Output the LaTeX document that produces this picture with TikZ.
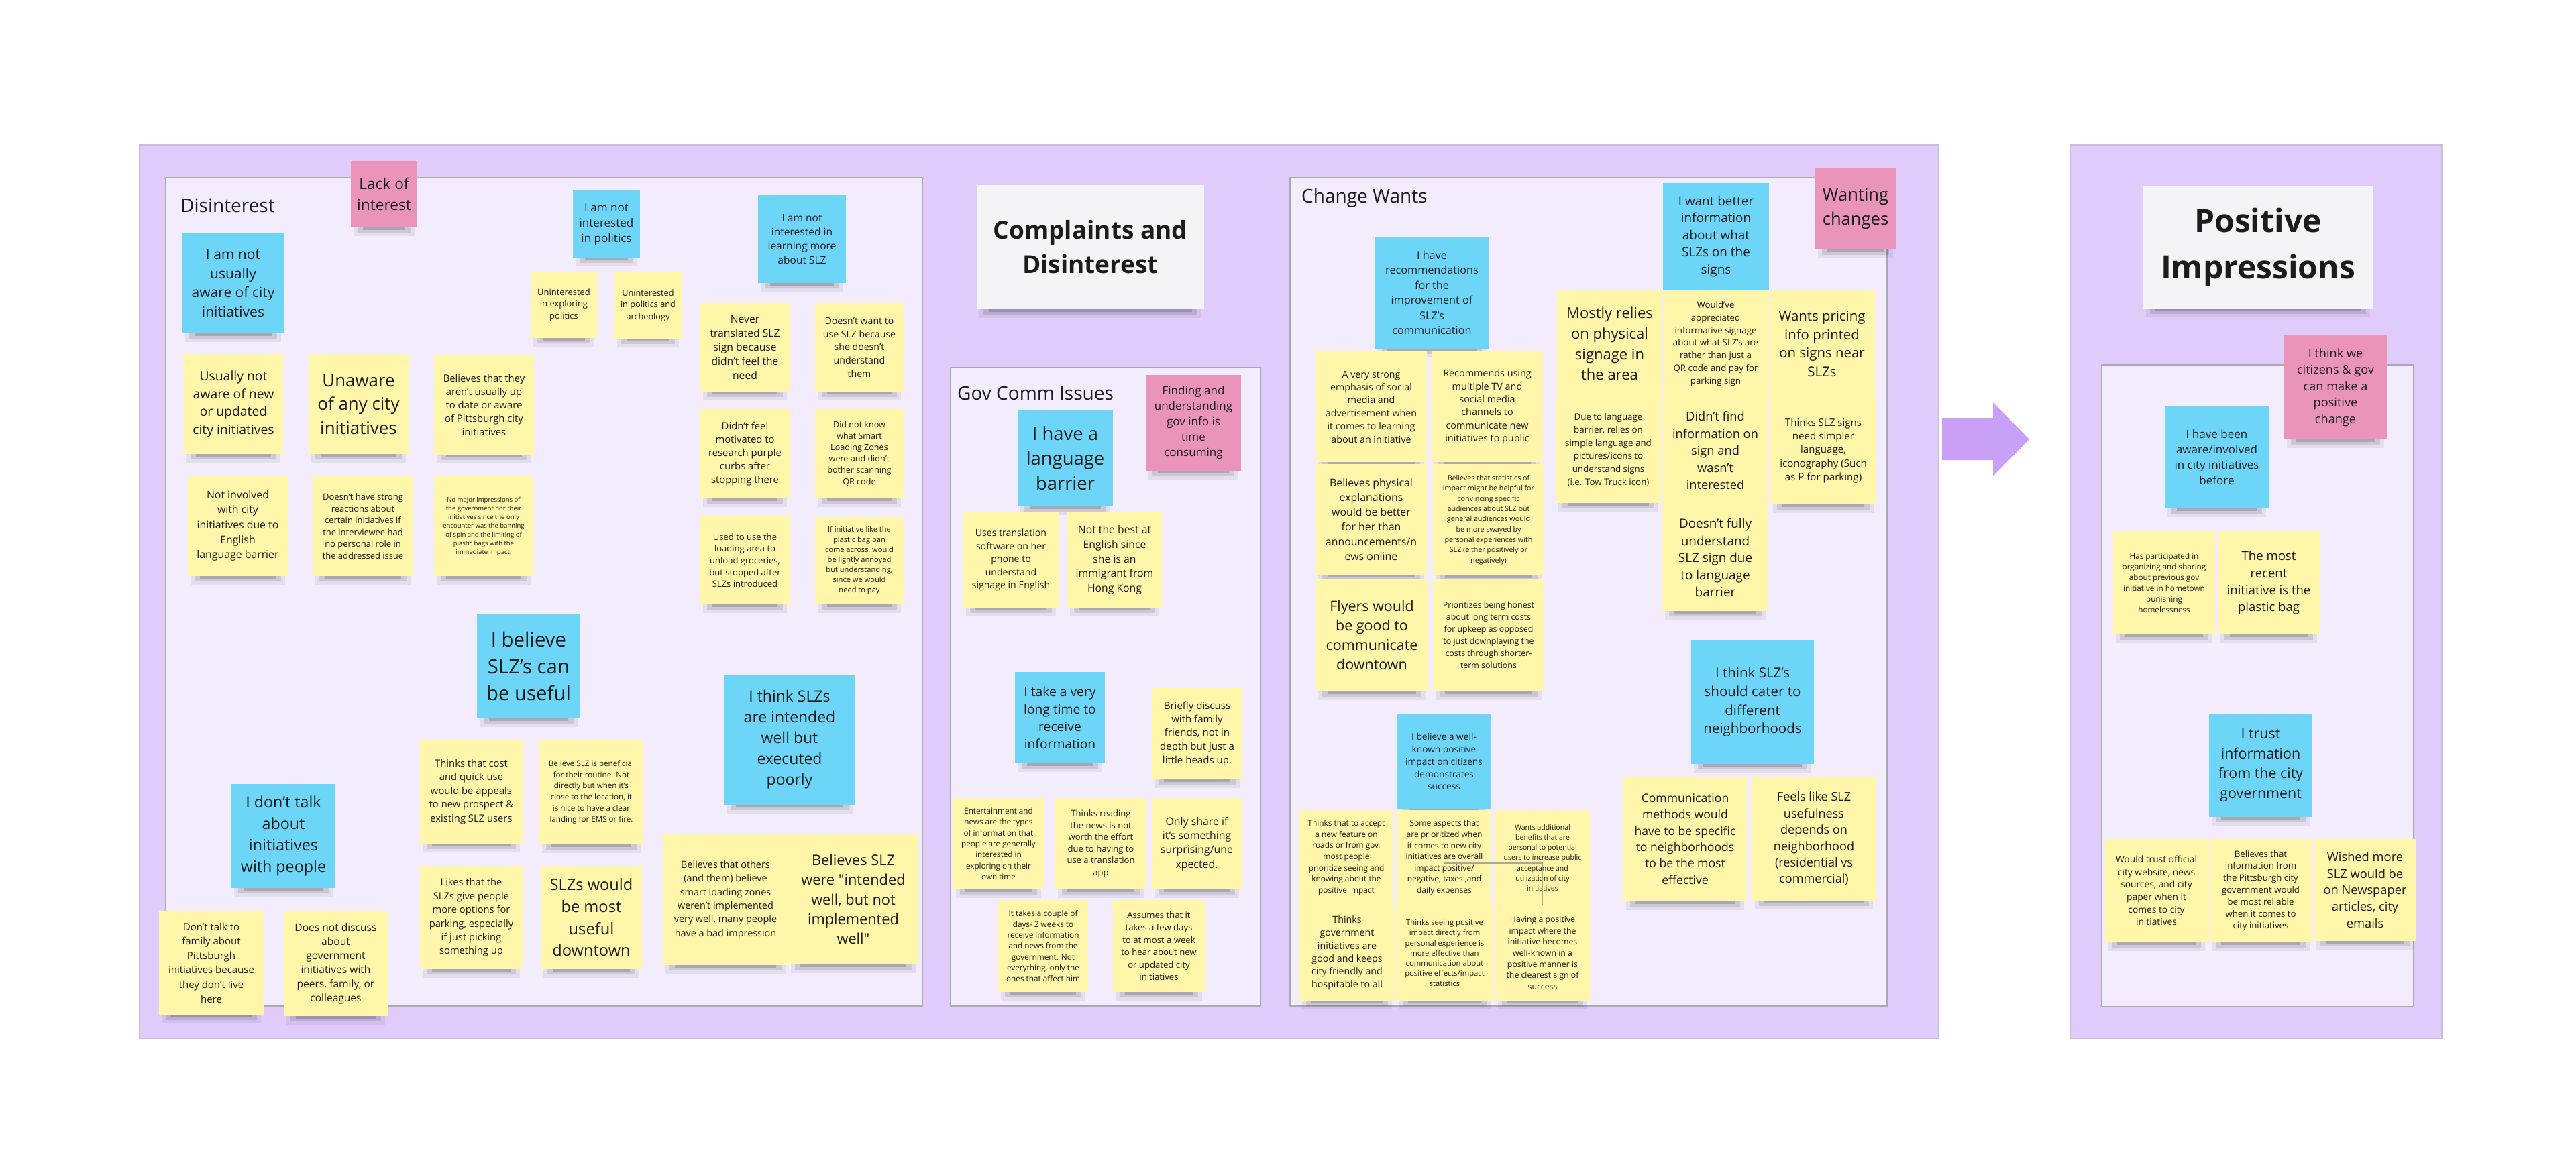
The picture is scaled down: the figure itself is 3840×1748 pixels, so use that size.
\documentclass[tikz,border=0pt]{standalone}
\usepackage{fontspec}
\setmainfont{Open Sans}
\definecolor{stkY}{HTML}{FFF6AA}
\definecolor{stkB}{HTML}{6DD6F8}
\definecolor{stkP}{HTML}{EA94BA}
\definecolor{frameC}{HTML}{DFCCFA}
\definecolor{frameB}{HTML}{CBBEDD}
\definecolor{innerC}{HTML}{F2ECFD}
\definecolor{innerB}{HTML}{ABA7B3}
\definecolor{ttl}{HTML}{F4F4F6}
\definecolor{txt}{HTML}{1C1C1C}
\definecolor{arr}{HTML}{C8A0F6}
\newsavebox\stkbox
\newdimen\stkwd
\tikzset{
  yel/.style={fill=stkY},
  blu/.style={fill=stkB},
  pnk/.style={fill=stkP},
  stickybase/.style={align=center, inner sep=0pt, text=txt},
  frame/.style={fill=frameC, draw=frameB, line width=1.5},
  group/.style={fill=innerC, draw=innerB, line width=2},
  grouplabel/.style={anchor=west, font=\fontsize{28}{34}\selectfont, text=txt, inner sep=0pt},
  titlebox/.style={fill=ttl, align=center, text=txt, inner sep=0pt},
}
\newcommand\stkshadow[4]{%
  \fill[black,opacity=.06] (#1+4,#4-6) rectangle (#3-4,#4+13);
  \fill[black,opacity=.10] (#1+10,#4-3) rectangle (#3-10,#4+8);
  \fill[black,opacity=.16] (#1+18,#4) rectangle (#3-18,#4+4);
}
\newcommand\stk[8]{%
  \stkshadow{#2}{#3}{#4}{#5}%
  \pgfmathsetmacro\stkf{#7/1.35}%
  \pgfinterruptpicture
    \sbox\stkbox{\fontsize{\stkf}{#7}\selectfont\begin{tabular}{@{}c@{}}#8\end{tabular}}%
    \global\stkwd=\wd\stkbox
  \endpgfinterruptpicture
  \pgfmathsetmacro\stkr{0.82*(#4-#2)/max(\stkwd,1)}%
  \pgfmathsetmacro\stkfit{\stkf*min(1,\stkr)}%
  \pgfmathsetmacro\stkW{#4-#2}%
  \pgfmathsetmacro\stkH{#5-#3}%
  \node[stickybase,#6,minimum width=\stkW pt,minimum height=\stkH pt,font=\fontsize{\stkfit}{#7}\selectfont] (#1) at ({(#2+#4)/2},{(#3+#5)/2}) {#8};%
}
\begin{document}
\begin{tikzpicture}[x=1pt,y=-1pt]
\useasboundingbox (0,0) rectangle (3840,1748);
\fill[white] (0,0) rectangle (3840,1748);
% frames
\draw[frame] (208,216) rectangle (2890,1548);
\draw[frame] (3086,216) rectangle (3640,1548);
\draw[group] (247,265) rectangle (1375,1500);
\draw[group] (1417,548) rectangle (1879,1500);
\draw[group] (1923,265) rectangle (2813,1500);
\draw[group] (3133,544) rectangle (3598,1501);
% group labels
\node[grouplabel] (lDis) at (269,306) {Disinterest};
\node[grouplabel] (lGov) at (1427,586) {Gov Comm Issues};
\node[grouplabel] (lChg) at (1940,295) {Change Wants};
% titles
\stkshadow{1456}{276}{1795}{461}
\node[titlebox,minimum width=339pt,minimum height=185pt,font=\bfseries\fontsize{37}{51}\selectfont] (t1) at (1625.5,368.5) {Complaints and\\Disinterest};
\stkshadow{3195}{277}{3537}{460}
\node[titlebox,minimum width=342pt,minimum height=183pt,font=\bfseries\fontsize{48}{69}\selectfont] (t2) at (3366,368.5) {Positive\\Impressions};
% arrow
\fill[arr] (2895,624) -- (2971,624) -- (2971,600) -- (3025,655) -- (2971,710) -- (2971,686) -- (2895,686) -- cycle;
% ---------- Disinterest ----------
\stk{lack}{523}{240}{622}{339}{pnk}{30.6}{Lack of\\interest}
\stk{d1}{272}{347}{423}{497}{blu}{28.6}{I am not\\usually\\aware of city\\initiatives}
\stk{d2}{274}{528}{422}{677}{yel}{26.5}{Usually not\\aware of new\\or updated\\city initiatives}
\stk{d3}{460}{528}{609}{677}{yel}{35.5}{Unaware\\of any city\\initiatives}
\stk{d4}{647}{529}{796}{678}{yel}{20}{Believes that they\\aren't usually up\\to date or aware\\of Pittsburgh city\\initiatives}
\stk{d5}{280}{709}{429}{859}{yel}{22.4}{Not involved\\with city\\initiatives due to\\English\\language barrier}
\stk{d6}{466}{710}{616}{859}{yel}{17.5}{Doesn't have strong\\reactions about\\certain initiatives if\\the interviewee had\\no personal role in\\the addressed issue}
\stk{d7}{647}{710}{795}{859}{yel}{13}{No major impressions of\\the government nor their\\initiatives since the only\\encounter was the banning\\of spin and the limiting of\\plastic bags with the\\immediate impact.}
\stk{d8}{854}{284}{954}{384}{blu}{23}{I am not\\interested\\in politics}
\stk{d9}{791}{405}{890}{504}{yel}{17.5}{Uninterested\\in exploring\\politics}
\stk{d10}{916}{406}{1016}{505}{yel}{17.5}{Uninterested\\in politics and\\archeology}
\stk{d11}{1130}{291}{1261}{422}{blu}{21}{I am not\\interested in\\learning more\\about SLZ}
\stk{d12}{1044}{452}{1177}{584}{yel}{21.2}{Never\\translated SLZ\\sign because\\didn't feel the\\need}
\stk{d13}{1215}{452}{1347}{584}{yel}{19.6}{Doesn't want to\\use SLZ because\\she doesn't\\understand\\them}
\stk{d14}{1044}{610}{1177}{743}{yel}{20}{Didn't feel\\motivated to\\research purple\\curbs after\\stopping there}
\stk{d15}{1215}{610}{1347}{743}{yel}{17}{Did not know\\what Smart\\Loading Zones\\were and didn't\\bother scanning\\QR code}
\stk{d16}{1044}{770}{1177}{901}{yel}{17.6}{Used to use the\\loading area to\\unload groceries,\\but stopped after\\SLZs introduced}
\stk{d17}{1215}{771}{1347}{901}{yel}{15}{If initiative like the\\plastic bag ban\\come across, would\\be lightly annoyed\\but understanding,\\since we would\\need to pay}
\stk{d18}{711}{916}{865}{1071}{blu}{39.6}{I believe\\SLZ's can\\be useful}
\stk{d19}{626}{1103}{779}{1258}{yel}{20.4}{Thinks that cost\\and quick use\\would be appeals\\to new prospect \&\\existing SLZ users}
\stk{d20}{804}{1103}{959}{1259}{yel}{16.7}{Believe SLZ is beneficial\\for their routine. Not\\directly but when it's\\close to the location, it\\is nice to have a clear\\landing for EMS or fire.}
\stk{d21}{626}{1291}{779}{1445}{yel}{20.4}{Likes that the\\SLZs give people\\more options for\\parking, especially\\if just picking\\something up}
\stk{d22}{806}{1291}{957}{1445}{yel}{32.6}{SLZs would\\be most\\useful\\downtown}
\stk{d23}{1079}{1006}{1275}{1200}{blu}{31}{I think SLZs\\are intended\\well but\\executed\\poorly}
\stk{d24}{988}{1244}{1175}{1439}{yel}{20.4}{Believes that others\\(and them) believe\\smart loading zones\\weren't implemented\\very well, many people\\have a bad impression}
\stk{d25}{1175}{1244}{1369}{1438}{yel}{29.4}{Believes SLZ\\were \textquotedbl intended\\well, but not\\implemented\\well\textquotedbl}
\stk{d26}{345}{1169}{500}{1324}{blu}{32}{I don't talk\\about\\initiatives\\with people}
\stk{d27}{237}{1358}{393}{1513}{yel}{21.6}{Don't talk to\\family about\\Pittsburgh\\initiatives because\\they don't live\\here}
\stk{d28}{423}{1358}{578}{1515}{yel}{21}{Does not discuss\\about\\government\\initiatives with\\peers, family, or\\colleagues}
% ---------- Gov Comm ----------
\stk{g1}{1708}{559}{1850}{702}{pnk}{23}{Finding and\\understanding\\gov info is\\time\\consuming}
\stk{g2}{1517}{611}{1659}{755}{blu}{37}{I have a\\language\\barrier}
\stk{g3}{1436}{764}{1578}{906}{yel}{19.6}{Uses translation\\software on her\\phone to\\understand\\signage in English}
\stk{g4}{1591}{764}{1732}{906}{yel}{21.6}{Not the best at\\English since\\she is an\\immigrant from\\Hong Kong}
\stk{g5}{1513}{1002}{1647}{1138}{blu}{26}{I take a very\\long time to\\receive\\information}
\stk{g6}{1717}{1026}{1852}{1162}{yel}{20.4}{Briefly discuss\\with family\\friends, not in\\depth but just a\\little heads up.}
\stk{g7}{1421}{1190}{1556}{1326}{yel}{16.3}{Entertainment and\\news are the types\\of information that\\people are generally\\interested in\\exploring on their\\own time}
\stk{g8}{1573}{1190}{1709}{1326}{yel}{17.6}{Thinks reading\\the news is not\\worth the effort\\due to having to\\use a translation\\app}
\stk{g9}{1717}{1190}{1851}{1326}{yel}{21.4}{Only share if\\it's something\\surprising/une\\xpected.}
\stk{g10}{1488}{1342}{1622}{1479}{yel}{16.3}{It takes a couple of\\days- 2 weeks to\\receive information\\and news from the\\government. Not\\everything, only the\\ones that affect him}
\stk{g11}{1659}{1342}{1796}{1479}{yel}{18.4}{Assumes that it\\takes a few days\\to at most a week\\to hear about new\\or updated city\\initiatives}
% ---------- Change Wants ----------
\stk{c1}{2050}{353}{2219}{520}{blu}{22.4}{I have\\recommendations\\for the\\improvement of\\SLZ's\\communication}
\stk{c2}{1961}{524}{2127}{689}{yel}{19.4}{A very strong\\emphasis of social\\media and\\advertisement when\\it comes to learning\\about an initiative}
\stk{c3}{2134}{524}{2300}{689}{yel}{19.4}{Recommends using\\multiple TV and\\social media\\channels to\\communicate new\\initiatives to public}
\stk{c4}{1961}{692}{2127}{857}{yel}{22}{Believes physical\\explanations\\would be better\\for her than\\announcements/n\\ews online}
\stk{c5}{2136}{692}{2302}{858}{yel}{15.3}{Believes that statistics of\\impact might be helpful for\\convincing specific\\audiences about SLZ but\\general audiences would\\be more swayed by\\personal experiences with\\SLZ (either positively or\\negatively)}
\stk{c6}{1961}{863}{2129}{1031}{yel}{29}{Flyers would\\be good to\\communicate\\downtown}
\stk{c7}{2136}{863}{2302}{1031}{yel}{17.9}{Prioritizes being honest\\about long term costs\\for upkeep as opposed\\to just downplaying the\\costs through shorter-\\term solutions}
\stk{c8}{2479}{273}{2637}{432}{blu}{25.5}{I want better\\information\\about what\\SLZs on the\\signs}
\stk{c9}{2321}{433}{2478}{592}{yel}{30.6}{Mostly relies\\on physical\\signage in\\the area}
\stk{c10}{2480}{433}{2635}{592}{yel}{18.9}{Would've\\appreciated\\informative signage\\about what SLZ's are\\rather than just a\\QR code and pay for\\parking sign}
\stk{c11}{2637}{433}{2795}{592}{yel}{27.5}{Wants pricing\\info printed\\on signs near\\SLZs}
\stk{c12}{2319}{592}{2476}{750}{yel}{19.4}{Due to language\\barrier, relies on\\simple language and\\pictures/icons to\\understand signs\\(i.e. Tow Truck icon)}
\stk{c13}{2479}{592}{2635}{752}{yel}{25.5}{Didn't find\\information on\\sign and\\wasn't\\interested}
\stk{c14}{2639}{592}{2797}{752}{yel}{20.4}{Thinks SLZ signs\\need simpler\\language,\\iconography (Such\\as P for parking)}
\stk{c15}{2478}{752}{2636}{911}{yel}{25.5}{Doesn't fully\\understand\\SLZ sign due\\to language\\barrier}
\stk{wchg}{2706}{251}{2826}{372}{pnk}{35.7}{Wanting\\changes}
\stk{wk}{2082}{1065}{2223}{1206}{blu}{18.5}{I believe a well-\\known positive\\impact on citizens\\demonstrates\\success}
\stk{c16}{1937}{1208}{2077}{1349}{yel}{16.6}{Thinks that to accept\\a new feature on\\roads or from gov,\\most people\\prioritize seeing and\\knowing about the\\positive impact}
\stk{c17}{2083}{1208}{2223}{1349}{yel}{16.6}{Some aspects that\\are prioritized when\\it comes to new city\\initiatives are overall\\impact positive/\\negative, taxes ,and\\daily expenses}
\stk{c18}{2229}{1208}{2370}{1350}{yel}{15.2}{Wants additional\\benefits that are\\personal to potential\\users to increase public\\acceptance and\\utilization of city\\initiatives}
\stk{c19}{1937}{1350}{2079}{1492}{yel}{19.2}{Thinks\\government\\initiatives are\\good and keeps\\city friendly and\\hospitable to all}
\stk{c20}{2081}{1350}{2226}{1492}{yel}{15.2}{Thinks seeing positive\\impact directly from\\personal experience is\\more effective than\\communication about\\positive effects/impact\\statistics}
\stk{hp}{2229}{1350}{2370}{1492}{yel}{16.6}{Having a positive\\impact where the\\initiative becomes\\well-known in a\\positive manner is\\the clearest sign of\\success}
\stk{c21}{2521}{955}{2704}{1139}{blu}{27.7}{I think SLZ's\\should cater to\\different\\neighborhoods}
\stk{c22}{2420}{1158}{2604}{1344}{yel}{24.4}{Communication\\methods would\\have to be specific\\to neighborhoods\\to be the most\\effective}
\stk{c23}{2612}{1158}{2796}{1343}{yel}{24.4}{Feels like SLZ\\usefulness\\depends on\\neighborhood\\(residential vs\\commercial)}
\draw[line width=1.5, draw=gray!70] (wk.south) -- ++(0,81) -| (hp.north);
% ---------- Positive ----------
\stk{p1}{3405}{500}{3558}{655}{pnk}{24.5}{I think we\\citizens \& gov\\can make a\\positive\\change}
\stk{p2}{3227}{605}{3382}{758}{blu}{23}{I have been\\aware/involved\\in city initiatives\\before}
\stk{p3}{3150}{792}{3302}{946}{yel}{16}{Has participated in\\organizing and sharing\\about previous gov\\initiative in hometown\\punishing\\homelessness}
\stk{p4}{3306}{792}{3458}{946}{yel}{25.4}{The most\\recent\\initiative is the\\plastic bag}
\stk{p5}{3293}{1064}{3447}{1218}{blu}{29.5}{I trust\\information\\from the city\\government}
\stk{p6}{3138}{1251}{3291}{1405}{yel}{18.6}{Would trust official\\city website, news\\sources, and city\\paper when it\\comes to city\\initiatives}
\stk{p7}{3293}{1251}{3447}{1405}{yel}{17.8}{Believes that\\information from\\the Pittsburgh city\\government would\\be most reliable\\when it comes to\\city initiatives}
\stk{p8}{3449}{1251}{3602}{1403}{yel}{24.7}{Wished more\\SLZ would be\\on Newspaper\\articles, city\\emails}
\end{tikzpicture}
\end{document}
